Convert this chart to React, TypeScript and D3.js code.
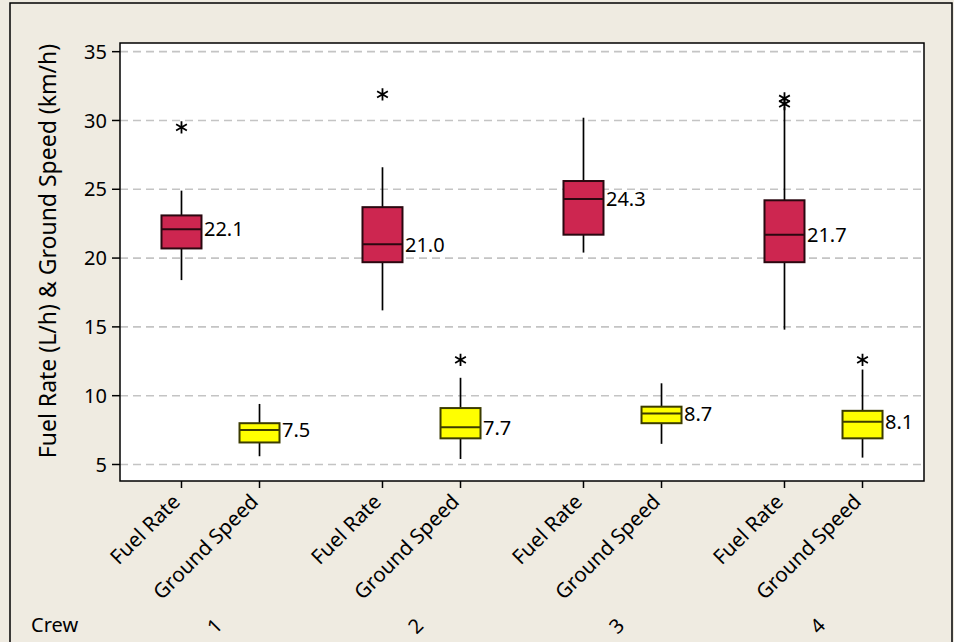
import React from "react";
import * as d3 from "d3";

// Crew groups and the two variables measured for each crew
const crews = ["1", "2", "3", "4"];
const variables = ["Fuel Rate", "Ground Speed"];

// Box summaries per crew: [lower whisker, Q1, median, Q3, upper whisker]
const fuelRateStats: number[][] = [
  [18.4, 20.7, 22.1, 23.1, 24.9],
  [16.2, 19.7, 21.0, 23.7, 26.6],
  [20.4, 21.7, 24.3, 25.6, 30.2],
  [14.8, 19.7, 21.7, 24.2, 31.0],
];
const groundSpeedStats: number[][] = [
  [5.6, 6.6, 7.5, 8.0, 9.4],
  [5.4, 6.9, 7.7, 9.1, 11.3],
  [6.5, 8.0, 8.7, 9.2, 10.9],
  [5.5, 6.9, 8.1, 8.9, 11.9],
];
// Outlying observations per crew
const fuelRateOutliers: number[][] = [[29.5], [31.9], [], [31.2, 31.6]];
const groundSpeedOutliers: number[][] = [[], [12.6], [], [12.6]];

const yTicks = [5, 10, 15, 20, 25, 30, 35];

const W = 954;
const H = 642;
const plot = { left: 120, right: 924, top: 43, bottom: 481 };
const FONT = "'Noto Sans', 'DejaVu Sans', sans-serif";

const boxStyles: Record<string, { fill: string; stroke: string }> = {
  "Fuel Rate": { fill: "#CD2650", stroke: "#2a0810" },
  "Ground Speed": { fill: "#FFFF00", stroke: "#3c3c00" },
};

function asteriskPath(r: number) {
  const c = r * Math.cos(Math.PI / 6);
  const s = r * Math.sin(Math.PI / 6);
  return `M0,${-r}L0,${r}M${-c},${-s}L${c},${s}M${-c},${s}L${c},${-s}`;
}

export default function App() {
  const y = d3.scaleLinear().domain([3.8, 35.63]).range([plot.bottom, plot.top]);
  const xCrew = d3.scaleBand<string>().domain(crews).range([plot.left, plot.right]);
  const xVar = d3
    .scalePoint<string>()
    .domain(variables)
    .range([0, xCrew.bandwidth()])
    .padding(0.788);
  const boxW = 40;

  const boxes = crews.flatMap((crew, i) =>
    variables.map((v) => ({
      crew,
      variable: v,
      stats: v === "Fuel Rate" ? fuelRateStats[i] : groundSpeedStats[i],
      outliers: v === "Fuel Rate" ? fuelRateOutliers[i] : groundSpeedOutliers[i],
      cx: (xCrew(crew) as number) + (xVar(v) as number),
    }))
  );

  const star = asteriskPath(6.2);

  return (
    <div style={{ position: "absolute", left: 0, top: 0 }}>
      <svg width={W} height={H} style={{ display: "block" }} fontFamily={FONT}>
        <rect x={0} y={0} width={W} height={H} fill="#EFEBE1" />
        <rect x={10} y={3} width={942} height={H + 10} fill="none" stroke="#000" strokeWidth={1.5} />

        {/* plot region */}
        <rect
          x={plot.left}
          y={plot.top}
          width={plot.right - plot.left}
          height={plot.bottom - plot.top}
          fill="#fff"
        />
        {yTicks.map((t) => (
          <line
            key={"g" + t}
            x1={plot.left}
            x2={plot.right}
            y1={y(t)}
            y2={y(t)}
            stroke="#c4c4c4"
            strokeWidth={1.6}
            strokeDasharray="8,5"
          />
        ))}

        {/* boxes */}
        {boxes.map((b) => {
          const [lo, q1, med, q3, hi] = b.stats;
          const st = boxStyles[b.variable];
          return (
            <g key={b.crew + b.variable}>
              <line x1={b.cx} x2={b.cx} y1={y(hi)} y2={y(q3)} stroke="#000" strokeWidth={1.7} />
              <line x1={b.cx} x2={b.cx} y1={y(q1)} y2={y(lo)} stroke="#000" strokeWidth={1.7} />
              <rect
                x={b.cx - boxW / 2}
                y={y(q3)}
                width={boxW}
                height={y(q1) - y(q3)}
                fill={st.fill}
                stroke={st.stroke}
                strokeWidth={2}
              />
              <line
                x1={b.cx - boxW / 2}
                x2={b.cx + boxW / 2}
                y1={y(med)}
                y2={y(med)}
                stroke={st.stroke}
                strokeWidth={2}
              />
              {b.outliers.map((o, k) => (
                <path
                  key={k}
                  d={star}
                  transform={`translate(${b.cx},${y(o)})`}
                  stroke="#000"
                  strokeWidth={1.8}
                  fill="none"
                />
              ))}
              <text
                x={b.cx + boxW / 2 + 2.5}
                y={y(med)}
                dy="0.36em"
                fontSize={20}
                fill="#000"
              >
                {med.toFixed(1)}
              </text>
            </g>
          );
        })}

        <rect
          x={plot.left}
          y={plot.top}
          width={plot.right - plot.left}
          height={plot.bottom - plot.top}
          fill="none"
          stroke="#000"
          strokeWidth={1.5}
        />

        {/* y axis */}
        {yTicks.map((t) => (
          <g key={"t" + t}>
            <line x1={plot.left - 8} x2={plot.left} y1={y(t)} y2={y(t)} stroke="#000" strokeWidth={1.5} />
            <text x={plot.left - 13} y={y(t)} dy="0.36em" textAnchor="end" fontSize={20}>
              {t}
            </text>
          </g>
        ))}
        <text
          transform={`translate(56,${(plot.top + plot.bottom) / 2 - 11}) rotate(-90)`}
          textAnchor="middle"
          fontSize={23}
        >
          Fuel Rate (L/h) &amp; Ground Speed (km/h)
        </text>

        {/* x axis */}
        {boxes.map((b) => (
          <g key={"x" + b.crew + b.variable}>
            <line x1={b.cx} x2={b.cx} y1={plot.bottom} y2={plot.bottom + 7} stroke="#000" strokeWidth={1.5} />
            <text transform={`translate(${b.cx},503) rotate(-45)`} textAnchor="end" fontSize={20.5}>
              {b.variable}
            </text>
          </g>
        ))}
        <text x={31} y={632} fontSize={20}>
          Crew
        </text>
        {crews.map((c) => (
          <text
            key={"c" + c}
            transform={`translate(${(xCrew(c) as number) + xCrew.bandwidth() / 2 - 6},626) rotate(-45)`}
            textAnchor="middle"
            dy="0.35em"
            fontSize={20}
          >
            {c}
          </text>
        ))}
      </svg>
    </div>
  );
}
